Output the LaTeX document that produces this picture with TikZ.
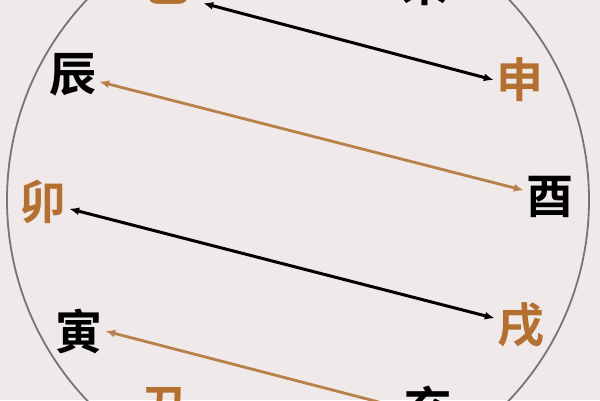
\documentclass[tikz,border=0pt]{standalone}
\usepackage{fontspec}
\newfontfamily\cjk{Noto Sans CJK SC Bold}
\usetikzlibrary{arrows.meta}
\definecolor{bgcol}{RGB}{239,233,233}
\definecolor{copper}{RGB}{180,112,48}
\definecolor{copperline}{RGB}{184,128,74}
\definecolor{rim}{RGB}{118,116,116}
\tikzset{
	ch/.style={font=\cjk\fontsize{47}{47}\selectfont, minimum size=52pt, inner sep=0pt},
	blackch/.style={ch, text=black},
	copperch/.style={ch, text=copper},
	blackpair/.style={{Latex[length=10pt,width=8pt]}-{Latex[length=10pt,width=8pt]}, line width=3pt, draw=black},
	copperpair/.style={{Latex[length=10pt,width=8pt]}-{Latex[length=10pt,width=8pt]}, line width=2.8pt, draw=copperline}
}
\begin{document}
\begin{tikzpicture}[x=1pt, y=-1pt]
		
		\fill[bgcol] (0,0) rectangle (600,400);
		\useasboundingbox (0,0) rectangle (600,400);
		\draw[rim, line width=1.8pt] (298,200) circle (291);
		
		\node (si) at (167,-16) [copperch] {巳};
		\node (wei) at (425,-16) [blackch] {未};
		\node (chen) at (73,75) [blackch] {辰};
		\node (shen) at (520,80) [copperch] {申};
		\node (mao) at (43,202) [copperch] {卯};
		\node (you) at (550,197) [blackch] {酉};
		\node (yin) at (79,331) [blackch] {寅};
		\node (xu) at (521,325) [copperch] {戌};
		\node (chou) at (165,408) [copperch] {丑};
		\node (hai) at (428,408) [blackch] {亥};
		
		\draw[blackpair]
		([shift={(10,-7)}]si.south east) -- (shen.west);
		\draw[copperpair]
		(chen) -- (you);
		\draw[blackpair]
		(mao) -- (xu);
		\draw[copperpair]
		(yin.east) -- (hai.west);
	\end{tikzpicture}
\end{document}
